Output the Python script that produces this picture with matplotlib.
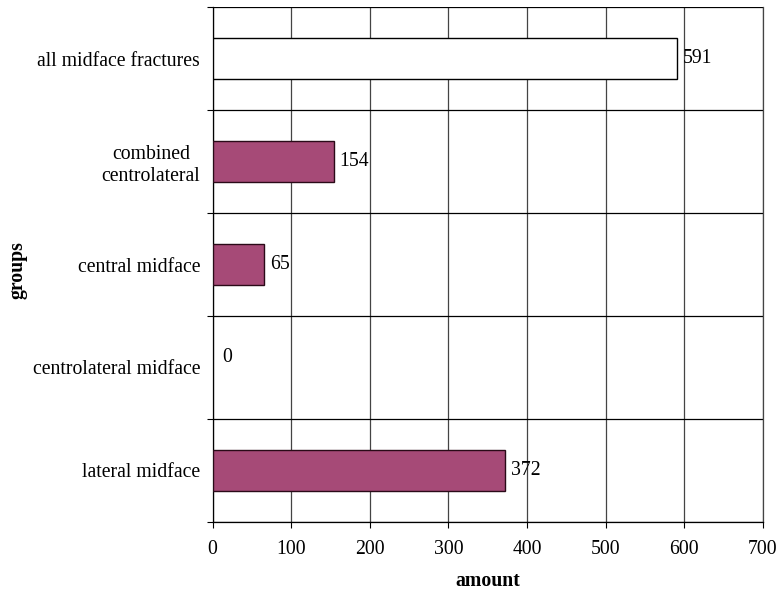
import numpy as np
import matplotlib
matplotlib.use("Agg")
import matplotlib.pyplot as plt
from matplotlib.ticker import FixedLocator

# Midface fracture counts per group
categories = [
    "all midface fractures",
    "combined\ncentrolateral",
    "central midface",
    "centrolateral midface",
    "lateral midface",
]
values = [591, 154, 65, 0, 372]
x_ticks = [0, 100, 200, 300, 400, 500, 600, 700]

plt.rcParams["font.family"] = ["Liberation Serif", "DejaVu Serif"]
FS = 14.2
plt.rcParams["font.size"] = FS

fig = plt.figure(figsize=(7.79, 5.93), dpi=100)
ax = fig.add_axes([0.273, 0.1202, 0.7063, 0.8675])

plum = "#A64A77"
face = ["white"] + [plum] * (len(values) - 1)
edge = ["black"] + ["#2a0a18"] * (len(values) - 1)
y = np.arange(len(categories))
bars = ax.barh(y, values, height=0.4, color=face, edgecolor=edge, linewidth=1.0, zorder=3)
for b, v in zip(bars, values):
    if v == 0:
        b.set_linewidth(0)

# value labels next to bar ends
for yi, v in zip(y, values):
    off = (7, 7) if v == 0 else (4.3, 0)
    ax.annotate(str(v), xy=(v, yi), xytext=off, textcoords="offset points",
                ha="left", va="center", fontsize=FS, zorder=4)

ax.set_xlim(0, 700)
ax.set_ylim(len(categories) - 0.5, -0.5)

ax.set_xticks(x_ticks)
ax.set_xticklabels([str(t) for t in x_ticks])
ax.set_yticks(y)
ax.set_yticklabels(categories, multialignment="center")
ax.yaxis.set_minor_locator(FixedLocator(np.arange(-0.5, len(categories), 1.0)))

ax.tick_params(axis="y", which="major", length=0, pad=9)
ax.tick_params(axis="y", which="minor", length=4, width=0.8, direction="out")
ax.tick_params(axis="x", which="major", length=4, width=0.8, direction="out", pad=9)

ax.grid(axis="x", which="major", color="#444444", linewidth=0.9, zorder=0)
ax.grid(axis="y", which="minor", color="black", linewidth=0.9, zorder=0)

ax.spines["top"].set_visible(False)
ax.spines["right"].set_color("#444444")
ax.spines["right"].set_linewidth(0.9)
ax.spines["left"].set_linewidth(0.9)
ax.spines["bottom"].set_linewidth(0.9)

ax.set_xlabel("amount", fontweight="bold", fontsize=FS, labelpad=9)
ax.set_ylabel("groups", fontweight="bold", fontsize=FS)
ax.yaxis.set_label_coords(-0.337, 0.49)

fig.savefig("out.png", dpi=100)
